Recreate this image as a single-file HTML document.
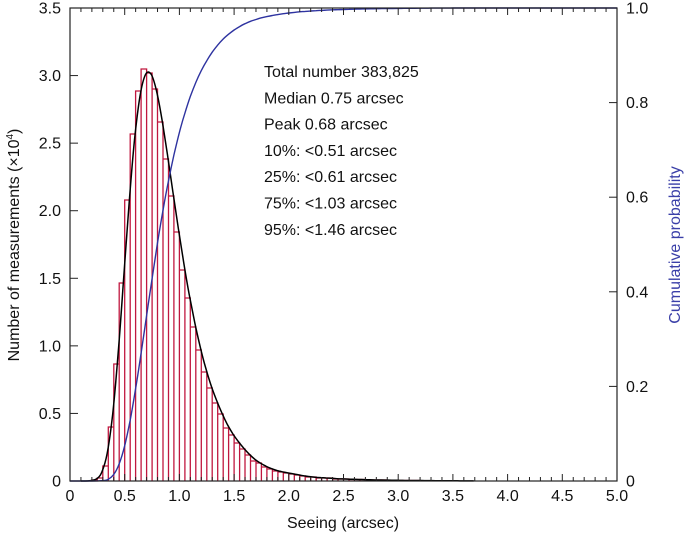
<!DOCTYPE html>
<html><head><meta charset="utf-8"><style>
html,body{margin:0;padding:0;background:#fff;width:685px;height:538px;overflow:hidden}
svg text{font-family:"Liberation Sans",Arial,sans-serif;font-size:16px;fill:#111}
</style></head><body>
<svg id="s" width="685" height="538" xmlns="http://www.w3.org/2000/svg"></svg>
<script>
const s=document.getElementById('s');const NS='http://www.w3.org/2000/svg';
function el(t,a,txt){const e=document.createElementNS(NS,t);for(const k in a)e.setAttribute(k,a[k]);if(txt!==undefined)e.textContent=txt;s.appendChild(e);return e;}
const X0=70,X1=617,Y0=481,YT=8;
const px=v=>X0+(X1-X0)*v/5;
const py=v=>Y0-(Y0-YT)*v/3.5;
const pc=v=>Y0-(Y0-YT)*v;
let tops=[480,478,466,427,364,283,200,134,91,69,73,89,122,159,196,232,270,298,327,350,372,388,403,414,428,435,443,449,455,461,463,467,469,471,472,473,474,475,476,477,477,478,478,478,479,479,479,479.5,479.5,479.5,480,480,480,480,480.3,480.3,480.5,480.5,480.5,480.5,480.6,480.6,480.7,480.7,480.8,480.8,480.8,480.9,480.9,480.9];
let bars=tops.map((t,i)=>({x:0.2+i*0.05,h:Y0-t}));
let d='';
bars.forEach(b=>{const a=px(b.x),c=px(b.x+0.05);if(b.h>0.3)d+=`M${a.toFixed(1)},${Y0}V${(Y0-b.h).toFixed(1)}H${c.toFixed(1)}V${Y0}`;});
el('path',{d:d,fill:'none',stroke:'#c0173f','stroke-width':1.3});
function spline(pts){let cd=`M${pts[0][0]},${pts[0][1]}`;
for(let i=0;i<pts.length-1;i++){const p0=pts[Math.max(0,i-1)],p1=pts[i],p2=pts[i+1],p3=pts[Math.min(pts.length-1,i+2)];
cd+=`C${(p1[0]+(p2[0]-p0[0])/6).toFixed(1)},${(p1[1]+(p2[1]-p0[1])/6).toFixed(1)} ${(p2[0]-(p3[0]-p1[0])/6).toFixed(1)},${(p2[1]-(p3[1]-p1[1])/6).toFixed(1)} ${p2[0].toFixed(1)},${p2[1].toFixed(1)}`;}return cd;}
// smoothed black curve
let hs=bars.map(b=>b.h);
let sm=hs.map((h,i)=>0.25*(hs[i-1]||0)+0.5*h+0.25*(hs[i+1]!==undefined?hs[i+1]:h));
sm=sm.map((h,i)=>0.25*(sm[i-1]||0)+0.5*h+0.25*(sm[i+1]!==undefined?sm[i+1]:h));
let mx=Math.max(...sm);sm=sm.map(h=>h*(407/mx));
let pts=[[px(0.1),Y0],[px(0.175),Y0-0.3]];
bars.forEach((b,i)=>pts.push([px(b.x+0.04),Y0-sm[i]]));
pts=pts.filter(p=>p[0]<px(4.9));
el('path',{d:spline(pts),fill:'none',stroke:'#000','stroke-width':1.5});
let tot=bars.reduce((a,b)=>a+b.h,0),c=0;let cp=[[px(0),Y0],[px(0.2),Y0]];
bars.forEach(b=>{c+=b.h;cp.push([px(b.x+0.05),pc(c/tot)]);});
cp.push([px(5),pc(1)]);
el('path',{d:spline(cp),fill:'none',stroke:'#2e33a0','stroke-width':1.4});
el('rect',{x:X0,y:YT,width:X1-X0,height:Y0-YT,fill:'none',stroke:'#222','stroke-width':1.2});
for(let i=0;i<=50;i++){const x=px(i/10),L=(i%5==0)?7:4;
el('line',{x1:x,y1:Y0,x2:x,y2:Y0-L,stroke:'#222','stroke-width':1});
el('line',{x1:x,y1:YT,x2:x,y2:YT+L,stroke:'#222','stroke-width':1});
if(i%5==0)el('text',{x:x,y:Y0+20,'text-anchor':'middle'},i==0?'0':(i/10).toFixed(1));}
for(let i=0;i<=7;i++){const y=py(i*0.5);el('line',{x1:X0,y1:y,x2:X0+8,y2:y,stroke:'#222'});
el('text',{x:X0-9,y:y+5.5,'text-anchor':'end'},i==0?'0':(i*0.5).toFixed(1));}
for(let i=0;i<=5;i++){const y=pc(i*0.2);el('line',{x1:X1,y1:y,x2:X1-8,y2:y,stroke:'#222'});
el('text',{x:X1+9,y:y+5.5},i==0?'0':(i*0.2).toFixed(1));}
el('text',{x:343,y:528,'text-anchor':'middle'},'Seeing (arcsec)');
const t1=el('text',{x:0,y:0,transform:'translate(19,245) rotate(-90)','text-anchor':'middle'});
t1.innerHTML='Number of measurements (×10<tspan dy="-6" font-size="10">4</tspan><tspan dy="6">)</tspan>';
el('text',{x:0,y:0,transform:'translate(680,245) rotate(-90)','text-anchor':'middle',style:'fill:#3a3fa8'},'Cumulative probability');
['Total number 383,825','Median 0.75 arcsec','Peak 0.68 arcsec','10%: <0.51 arcsec','25%: <0.61 arcsec','75%: <1.03 arcsec','95%: <1.46 arcsec'].forEach((t,i)=>el('text',{x:264,y:77+i*26.3},t));
</script>
</body></html>
